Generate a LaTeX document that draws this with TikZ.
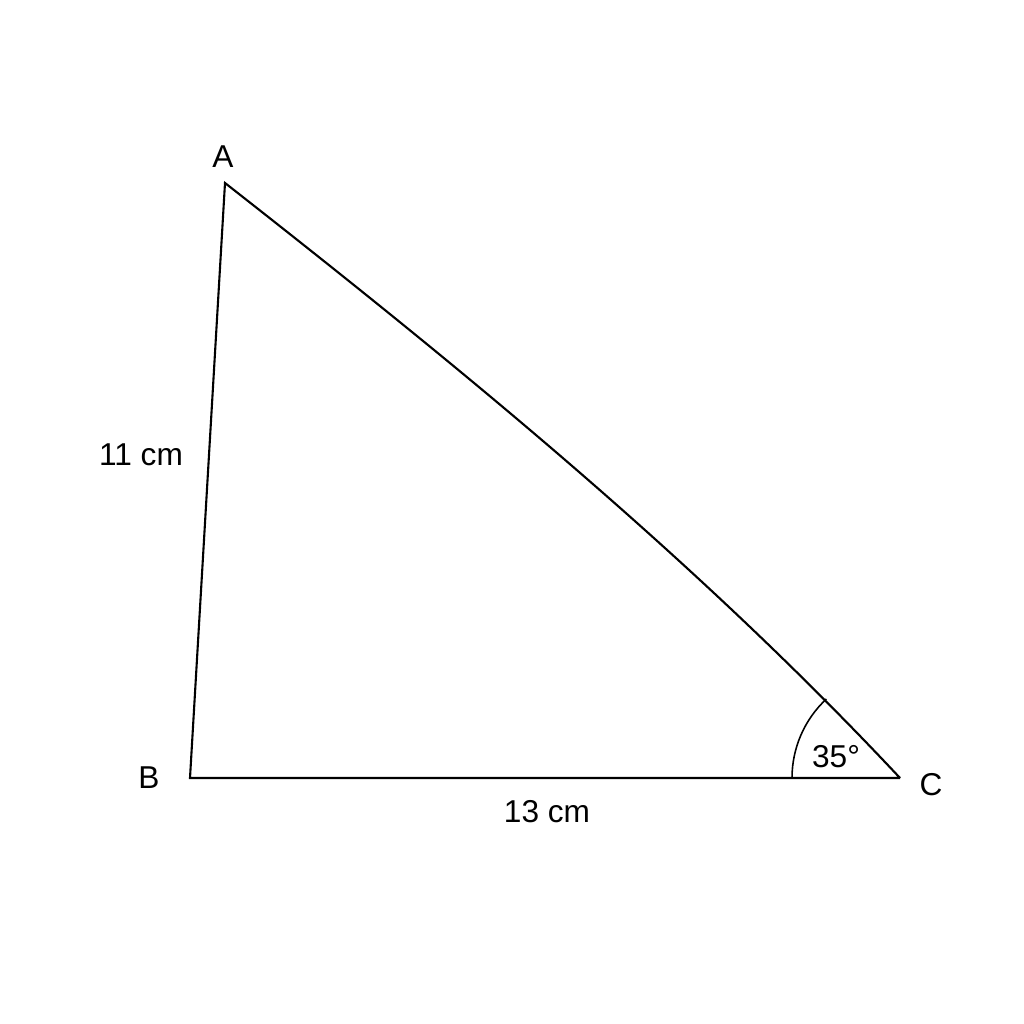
\documentclass[tikz,border=0pt]{standalone}
\usepackage{fontspec}
\setmainfont{Liberation Sans}
\begin{document}
\begin{tikzpicture}[x=0.02cm,y=0.02cm,
  lbl/.style={font=\fontsize{18}{21}\selectfont, inner sep=0pt},
  edge/.style={line width=1.2pt, line join=miter}]
\useasboundingbox[fill=white] (0,0) rectangle (1024,1024);
\coordinate (A) at (225,841);
\coordinate (B) at (190,246);
\coordinate (C) at (900,246);
\draw[edge] (C) -- (B) -- (A) .. controls (461,656) and (695,465) .. (C);
\draw[line width=0.9pt] (792,246) arc (180:133:2.16cm);
\node[lbl] (la) at (223,867) {A};
\node[lbl] (lb) at (149,246) {B};
\node[lbl] (lc) at (931,239) {C};
\node[lbl] (l11) at (141,569) {11 cm};
\node[lbl] (l13) at (547,212) {13 cm};
\node[lbl] (l35) at (836,267) {35°};
\end{tikzpicture}
\end{document}
